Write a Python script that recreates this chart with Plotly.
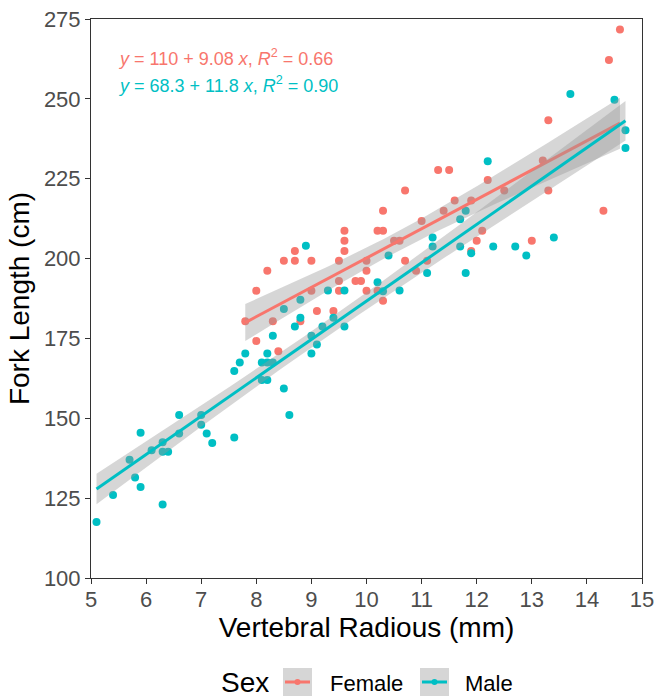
import numpy as np
import plotly.graph_objects as go

# ---------------- data ----------------
female_x = [7.8, 8.0, 8.0, 8.2, 8.3, 8.4, 8.5, 8.7, 8.7, 8.8, 9.0, 9.0, 9.1, 9.4,
            9.5, 9.5, 9.5, 9.6, 9.6, 9.6, 9.8, 9.9, 10.0, 10.0, 10.0, 10.2, 10.2,
            10.3, 10.3, 10.3, 10.5, 10.6, 10.7, 10.7, 10.9, 11.0, 11.1, 11.3, 11.4,
            11.5, 11.6, 11.9, 11.9, 12.0, 12.1, 12.2, 12.5, 13.0, 13.2, 13.3, 13.3,
            14.3, 14.4, 14.6]
female_y = [180.4, 174.2, 189.9, 196.2, 180.4, 171.0, 199.3, 199.3, 202.4, 180.4,
            199.3, 189.9, 183.6, 183.6, 199.3, 193.0, 189.9, 208.7, 205.6, 202.4,
            193.0, 193.0, 199.3, 196.2, 189.9, 208.7, 189.9, 215.0, 208.7, 186.8,
            205.6, 205.6, 221.3, 199.3, 196.2, 211.8, 199.3, 227.7, 215.0, 227.7,
            218.2, 218.2, 202.4, 205.6, 208.7, 224.6, 221.3, 205.6, 230.7, 243.3,
            221.3, 215.0, 262.2, 271.7]

male_x = [5.1, 5.4, 5.7, 5.8, 5.9, 5.9, 6.1, 6.3, 6.3, 6.4, 6.3, 6.6, 6.6, 7.0, 7.0,
          7.1, 7.2, 7.6, 7.6, 7.7, 7.8, 8.1, 8.1, 8.2, 8.2, 8.2, 8.3, 8.3, 8.5, 8.5,
          8.6, 8.7, 8.8, 8.8, 8.9, 9.0, 9.0, 9.1, 9.2, 9.3, 9.4, 9.6, 9.6, 10.2, 10.3,
          10.4, 10.6, 11.1, 11.2, 11.2, 11.7, 11.7, 11.8, 11.8, 11.9, 12.2, 12.3,
          12.7, 12.9, 13.4, 13.7, 14.5, 14.7, 14.7]
male_y = [117.5, 126.0, 137.0, 131.5, 145.5, 128.5, 140.0, 142.5, 139.5, 139.5, 123.0,
          151.0, 145.2, 151.0, 148.0, 145.2, 142.3, 144.0, 164.8, 167.5, 170.3, 167.5,
          162.0, 170.3, 167.5, 162.0, 175.8, 167.5, 184.2, 159.3, 151.0, 178.7, 187.1,
          181.5, 204.0, 175.8, 170.3, 173.1, 178.7, 190.0, 181.5, 190.0, 178.7, 192.6,
          189.8, 201.0, 190.0, 195.5, 206.6, 203.8, 212.3, 203.8, 215.0, 195.5, 201.7,
          230.5, 203.8, 203.8, 201.0, 206.6, 251.5, 249.7, 240.2, 234.6]

sex_labels = ["Female", "Male"]
sex_colors = ["#F8766D", "#00BFC4"]
eq_intercept = ["110", "68.3"]
eq_slope = ["9.08", "11.8"]
eq_r2 = ["0.66", "0.90"]

x_ticks = list(range(5, 16))
y_ticks = [100, 125, 150, 175, 200, 225, 250, 275]

FONT = "Liberation Sans, Arial, sans-serif"


def t975(df):
    z = 1.959964
    return (z + (z**3 + z) / (4 * df) + (5 * z**5 + 16 * z**3 + 3 * z) / (96 * df**2)
            + (3 * z**7 + 19 * z**5 + 17 * z**3 - 15 * z) / (384 * df**3))


def lm_fit(x, y, n_out=80):
    x = np.asarray(x, float)
    y = np.asarray(y, float)
    n = len(x)
    xb, yb = x.mean(), y.mean()
    sxx = ((x - xb) ** 2).sum()
    b = ((x - xb) * (y - yb)).sum() / sxx
    a = yb - b * xb
    s = np.sqrt(((y - a - b * x) ** 2).sum() / (n - 2))
    xs = np.linspace(x.min(), x.max(), n_out)
    yh = a + b * xs
    se = s * np.sqrt(1 / n + (xs - xb) ** 2 / sxx)
    t = t975(n - 2)
    return xs, yh, yh - t * se, yh + t * se


fig = go.Figure()

series = [(female_x, female_y), (male_x, male_y)]

# points first
for (xx, yy), lab, col in zip(series, sex_labels, sex_colors):
    fig.add_trace(go.Scatter(x=xx, y=yy, mode="markers", name=lab,
                             marker=dict(color=col, size=8, line=dict(width=0)),
                             showlegend=False, hoverinfo="x+y"))

# smooth: ribbon then line, per group
for (xx, yy), lab, col in zip(series, sex_labels, sex_colors):
    xs, yh, lo, hi = lm_fit(xx, yy)
    fig.add_trace(go.Scatter(x=np.concatenate([xs, xs[::-1]]),
                             y=np.concatenate([hi, lo[::-1]]),
                             fill="toself", fillcolor="rgba(153,153,153,0.4)",
                             line=dict(width=0), mode="lines",
                             showlegend=False, hoverinfo="skip"))
    fig.add_trace(go.Scatter(x=xs, y=yh, mode="lines",
                             line=dict(color=col, width=3),
                             showlegend=False, hoverinfo="skip"))

# equation labels
eq_y = [0.932, 0.883]
for i in range(2):
    txt = (f"<i>y</i> = {eq_intercept[i]} + {eq_slope[i]} <i>x</i>, "
           f"<i>R</i><sup>2</sup> = {eq_r2[i]}")
    fig.add_annotation(x=0.046, y=eq_y[i], xref="paper", yref="paper",
                       text=txt, showarrow=False, xanchor="left", yanchor="middle",
                       font=dict(family=FONT, size=18, color=sex_colors[i]))

# manual legend (ggplot style)
def px2x(px):
    return (px - 91) / 551.0


def py2y(py):
    return (578 - py) / 559.0


fig.add_annotation(x=px2x(219), y=py2y(682), xref="paper", yref="paper", text="Sex",
                   showarrow=False, xanchor="left", yanchor="middle", height=28,
                   valign="middle",
                   font=dict(family=FONT, size=28, color="black"))
key_left = [283, 420]
text_left = [328, 463]
for i in range(2):
    kx0, kx1 = key_left[i], key_left[i] + 29
    fig.add_shape(type="rect", xref="paper", yref="paper",
                  x0=px2x(kx0), x1=px2x(kx1), y0=py2y(696), y1=py2y(668),
                  fillcolor="#D6D6D6", line=dict(width=0), layer="above")
    fig.add_shape(type="line", xref="paper", yref="paper",
                  x0=px2x(kx0 + 2), x1=px2x(kx1 - 2), y0=py2y(682), y1=py2y(682),
                  line=dict(color=sex_colors[i], width=3), layer="above")
    cx = (kx0 + kx1) / 2
    fig.add_shape(type="circle", xref="paper", yref="paper",
                  x0=px2x(cx - 3), x1=px2x(cx + 3), y0=py2y(685), y1=py2y(679),
                  fillcolor=sex_colors[i], line=dict(width=0), layer="above")
    fig.add_annotation(x=px2x(text_left[i]), y=py2y(683), xref="paper", yref="paper",
                       text=sex_labels[i], showarrow=False, xanchor="left",
                       yanchor="middle",
                       font=dict(family=FONT, size=22, color="black"))

axis_common = dict(showgrid=False, zeroline=False, showline=True, mirror=True,
                   automargin=False,
                   linecolor="#333333", linewidth=1, ticks="outside", ticklen=5,
                   tickwidth=1, tickcolor="#333333",
                   tickfont=dict(family=FONT, size=22, color="#4D4D4D"))

fig.update_layout(
    width=656, height=697,
    margin=dict(l=91, r=14, t=19, b=119),
    paper_bgcolor="white", plot_bgcolor="white",
    showlegend=False,
    xaxis=dict(range=[5, 15], tickvals=x_ticks, ticktext=[str(v) for v in x_ticks],
               ticklabelstandoff=-3,
               title=dict(text="Vertebral Radious (mm)", standoff=3,
                          font=dict(family=FONT, size=28, color="black")),
               **axis_common),
    yaxis=dict(range=[100, 275], tickvals=y_ticks, ticktext=[str(v) for v in y_ticks],
               title=dict(text="Fork Length (cm)", standoff=6,
                          font=dict(family=FONT, size=28, color="black")),
               **axis_common),
)

fig.write_html("out.html")
